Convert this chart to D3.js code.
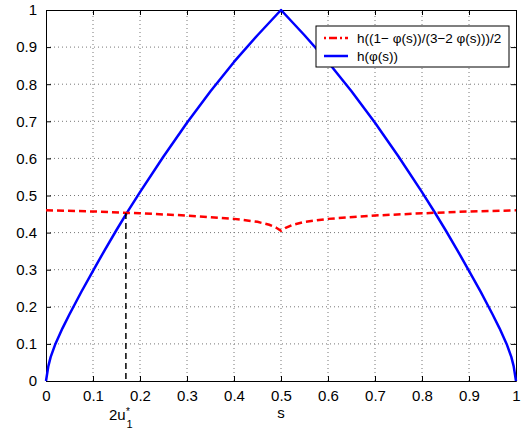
<!DOCTYPE html>
<html>
<head>
<meta charset="utf-8">
<script src="https://cdn.jsdelivr.net/npm/d3@7"></script>
<style>
  body { margin: 0; background: #fff; }
  text { font-family: "Liberation Sans", Arial, sans-serif; }
</style>
</head>
<body>
<svg id="chart" width="526" height="439"></svg>
<script>
// h(phi(s))
const sBlue = [0, 0.005, 0.01, 0.02, 0.035, 0.05, 0.075, 0.1, 0.125, 0.15, 0.175, 0.2, 0.25, 0.3, 0.35, 0.4, 0.45, 0.5,
               0.55, 0.6, 0.65, 0.7, 0.75, 0.8, 0.825, 0.85, 0.875, 0.9, 0.925, 0.95, 0.965, 0.98, 0.99, 0.995, 1];
const hBlue = [0, 0.04, 0.065, 0.1, 0.142, 0.18, 0.24, 0.297, 0.353, 0.407, 0.459, 0.509, 0.605, 0.696, 0.781, 0.86, 0.932, 1,
               0.932, 0.86, 0.781, 0.696, 0.605, 0.509, 0.459, 0.407, 0.353, 0.297, 0.24, 0.18, 0.142, 0.1, 0.065, 0.04, 0];

// h((1-phi(s))/(3-2 phi(s)))/2
const sRed = [0, 0.1, 0.2, 0.3, 0.4, 0.45, 0.475, 0.49, 0.5, 0.51, 0.525, 0.55, 0.6, 0.7, 0.8, 0.9, 1];
const hRed = [0.46, 0.457, 0.452, 0.446, 0.437, 0.429, 0.421, 0.413, 0.405, 0.413, 0.421, 0.429, 0.437, 0.446, 0.452, 0.457, 0.46];

const tickVals = [0, 0.1, 0.2, 0.3, 0.4, 0.5, 0.6, 0.7, 0.8, 0.9, 1];
const uStar = 0.17;
const uStarVal = 0.453;
const legendLabels = ["h((1\u2212 \u03C6(s))/(3\u22122 \u03C6(s)))/2", "h(\u03C6(s))"];

const margin = { left: 46, right: 10, top: 10, bottom: 58 };
const W = 526, H = 439;

const svg = d3.select("#chart");

const x = d3.scaleLinear().domain([0, 1]).range([margin.left, W - margin.right]);
const y = d3.scaleLinear().domain([0, 1]).range([H - margin.bottom, margin.top]);

// grid
const grid = svg.append("g");
grid.selectAll("line.gx")
    .data(tickVals.slice(1, -1))
    .enter().append("line")
    .attr("x1", d => x(d)).attr("x2", d => x(d))
    .attr("y1", y(0)).attr("y2", y(1))
    .attr("stroke", "#777").attr("stroke-width", 1)
    .attr("stroke-dasharray", "1,3");
grid.selectAll("line.gy")
    .data(tickVals.slice(1, -1))
    .enter().append("line")
    .attr("y1", d => y(d)).attr("y2", d => y(d))
    .attr("x1", x(0)).attr("x2", x(1))
    .attr("stroke", "#777").attr("stroke-width", 1)
    .attr("stroke-dasharray", "1,3");

// axes, ticks inward on all sides
const fmt = d => d3.format("~g")(d);
const axBottom = svg.append("g").attr("transform", `translate(0,${y(0)})`)
    .call(d3.axisBottom(x).tickValues(tickVals).tickFormat(fmt).tickSizeInner(-5).tickSizeOuter(0).tickPadding(9));
const axLeft = svg.append("g").attr("transform", `translate(${x(0)},0)`)
    .call(d3.axisLeft(y).tickValues(tickVals).tickFormat(fmt).tickSizeInner(-5).tickSizeOuter(0).tickPadding(9));
const axTop = svg.append("g").attr("transform", `translate(0,${y(1)})`)
    .call(d3.axisTop(x).tickValues(tickVals).tickFormat("").tickSizeInner(-5).tickSizeOuter(0));
const axRight = svg.append("g").attr("transform", `translate(${x(1)},0)`)
    .call(d3.axisRight(y).tickValues(tickVals).tickFormat("").tickSizeInner(-5).tickSizeOuter(0));

[axBottom, axLeft, axTop, axRight].forEach(g => {
    g.selectAll("path").attr("stroke", "#000");
    g.selectAll("line").attr("stroke", "#000");
    g.selectAll("text").attr("fill", "#000").style("font-size", "15px")
        .style("font-family", "'Liberation Sans', Arial, sans-serif");
});

// curves
const line = d3.line().x(d => x(d[0])).y(d => y(d[1]));

svg.append("path")
    .datum(sBlue.map((s, i) => [s, hBlue[i]]))
    .attr("d", line)
    .attr("fill", "none")
    .attr("stroke", "#0000ff")
    .attr("stroke-width", 2.5)
    .attr("stroke-linejoin", "round");

svg.append("path")
    .datum(sRed.map((s, i) => [s, hRed[i]]))
    .attr("d", line)
    .attr("fill", "none")
    .attr("stroke", "#ff0000")
    .attr("stroke-width", 2.5)
    .attr("stroke-dasharray", "7,4");

// vertical marker at 2u1*
svg.append("line")
    .attr("x1", x(uStar)).attr("x2", x(uStar))
    .attr("y1", y(uStarVal)).attr("y2", y(0))
    .attr("stroke", "#000").attr("stroke-width", 1.5)
    .attr("stroke-dasharray", "6,4");

// axis label
svg.append("text")
    .attr("x", x(0.5)).attr("y", 418)
    .attr("text-anchor", "middle")
    .style("font-size", "15px")
    .text("s");

// 2u1* label, pieces placed side by side so they don't collide
const ux = x(uStar) - 17;
const u2 = svg.append("text")
    .attr("x", ux).attr("y", 420)
    .style("font-size", "15px")
    .text("2u");
const uw = u2.node().getComputedTextLength();
svg.append("text")
    .attr("x", ux + uw + 0.5).attr("y", 415)
    .style("font-size", "10px")
    .text("*");
svg.append("text")
    .attr("x", ux + uw + 1).attr("y", 428)
    .style("font-size", "11px")
    .text("1");

// legend
const lg = svg.append("g");
lg.append("rect")
    .attr("x", 316).attr("y", 26).attr("width", 193).attr("height", 41)
    .attr("fill", "#fff").attr("stroke", "#000").attr("stroke-width", 1);
const legendStyles = [
    { color: "#ff0000", dash: "2,3,8,3" },
    { color: "#0000ff", dash: null }
];
legendLabels.forEach((lab, i) => {
    const yy = 38 + i * 18;
    lg.append("line")
        .attr("x1", 324).attr("x2", 348)
        .attr("y1", yy).attr("y2", yy)
        .attr("stroke", legendStyles[i].color)
        .attr("stroke-width", 2.5)
        .attr("stroke-dasharray", legendStyles[i].dash);
    lg.append("text")
        .attr("x", 357).attr("y", yy + 4.5)
        .style("font-size", "13.5px")
        .text(lab);
});
</script>
</body>
</html>
